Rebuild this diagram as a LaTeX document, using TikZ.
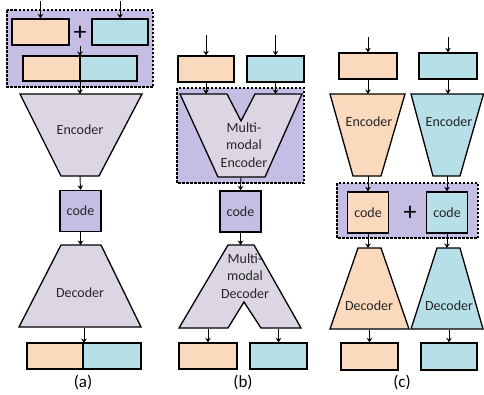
\documentclass[tikz,border=0pt]{standalone}
\usepackage{fontspec}
\setmainfont{Carlito}
\usetikzlibrary{arrows.meta}
\definecolor{peach}{HTML}{FBD9BD}
\definecolor{lblue}{HTML}{B7DFE7}
\definecolor{lpurp}{HTML}{C5BDE3}
\definecolor{trap}{HTML}{DCD6E4}
\definecolor{txt}{HTML}{262626}
\begin{document}
\begin{tikzpicture}[x=1pt,y=-1pt,
  mybox/.style={draw=black, line width=1.3pt, inner sep=0pt, minimum width=#1},
  mybox/.default=57pt,
  pbox/.style={mybox=#1, fill=peach, minimum height=26pt},
  bbox/.style={mybox=#1, fill=lblue, minimum height=26pt},
  codebox/.style={draw=black, line width=1.3pt, inner sep=0pt, minimum width=41pt, minimum height=41pt, font=\fontsize{14}{16}\selectfont, text=txt},
  outl/.style={draw=black, line width=1.3pt, line join=miter},
  grp/.style={draw=black, line width=1.2pt, dash pattern=on 2.5pt off 1.5pt, fill=lpurp},
  lbl/.style={font=\fontsize{14}{17.5}\selectfont, text=txt, align=center, inner sep=0pt},
  captxt/.style={font=\fontsize{17}{19}\selectfont, text=black, inner sep=0pt},
  plussign/.style={font=\fontsize{26}{26}\selectfont, inner sep=0pt},
  arr/.style={-{Stealth[length=4.5pt,width=5.5pt]}, line width=0.9pt, draw=black}]
\useasboundingbox (0,0) rectangle (484,394);
\fill[white] (0,0) rectangle (484,394);

%% ---------- (a) ----------
\draw[grp] (7,10) rectangle (153,87);
\node[pbox=57pt] (ain1) at (40.5,32) {};
\node[bbox=56pt] (ain2) at (120,32) {};
\coordinate (ain1s) at (40.5,1);
\coordinate (ain2s) at (120,1);
\node[plussign] (aplus) at (80,33) {+};
\coordinate (aplusb) at (80,46);
\node[mybox=57pt, fill=peach, minimum height=25pt] (acat1) at (51.5,68.5) {};
\node[mybox=57pt, fill=lblue, minimum height=25pt] (acat2) at (108.5,68.5) {};
\coordinate (acattop) at (80,56);
\coordinate (acatbot) at (80,81);
\draw[outl, fill=trap] (20,94) -- (142,94) -- (99,176) -- (61,176) -- cycle;
\coordinate (aenct) at (80,94);
\coordinate (aencb) at (80,176);
\node[lbl] (aenc) at (80,130) {Encoder};
\node[codebox, fill=lpurp] (acode) at (80.5,211) {code};
\draw[outl, fill=trap] (61,245) -- (101,245) -- (141,327) -- (19,327) -- cycle;
\coordinate (adect) at (80.5,245);
\coordinate (adecb) at (84,328);
\node[lbl] (adec) at (80,293) {Decoder};
\node[mybox=56pt, fill=peach, minimum height=26pt] (aout1) at (55,356) {};
\node[mybox=58pt, fill=lblue, minimum height=26pt] (aout2) at (112,356) {};
\coordinate (aoutt) at (84,343);
\node[captxt] (capa) at (83,382) {(a)};

\draw[arr] (ain1s) -- (ain1.north);
\draw[arr] (ain2s) -- (ain2.north);
\draw[arr] (aplusb) -- (acattop);
\draw[arr] (acatbot) -- (aenct);
\draw[arr] (aencb) -- (acode.north);
\draw[arr] (acode.south) -- (adect);
\draw[arr] (adecb) -- (aoutt);

%% ---------- (b) ----------
\node[pbox=56pt] (bin1) at (206,69) {};
\node[bbox=57pt] (bin2) at (275.5,69) {};
\coordinate (bin1s) at (206,35);
\coordinate (bin2s) at (275.5,35);
\draw[grp] (177,88) rectangle (304,183);
\draw[outl, fill=trap] (180,94) -- (227,94) -- (241,121) -- (255,94) -- (302,94) -- (265,177) -- (218,177) -- cycle;
\coordinate (benct1) at (206,94);
\coordinate (benct2) at (275.5,94);
\coordinate (bencb) at (241,177);
\node[lbl] (benc) at (244,145) {Multi-\\modal\\Encoder};
\node[codebox, fill=lpurp] (bcode) at (240.5,211.5) {code};
\draw[outl, fill=trap] (228,245) -- (254,245) -- (301,328) -- (261,328) -- (244,302) -- (228,328) -- (179,328) -- cycle;
\coordinate (bdect) at (240.5,245);
\coordinate (bdecb1) at (208,329);
\coordinate (bdecb2) at (278.5,329);
\node[lbl] (bdec) at (245,276) {Multi-\\modal\\Decoder};
\node[pbox=58pt] (bout1) at (208,356) {};
\node[bbox=57pt] (bout2) at (278.5,356) {};
\node[captxt] (capb) at (243,382) {(b)};

\draw[arr] (bin1s) -- (bin1.north);
\draw[arr] (bin2s) -- (bin2.north);
\draw[arr] (bin1.south) -- (benct1);
\draw[arr] (bin2.south) -- (benct2);
\draw[arr] (bencb) -- (bcode.north);
\draw[arr] (bcode.south) -- (bdect);
\draw[arr] (bdecb1) -- (bout1.north);
\draw[arr] (bdecb2) -- (bout2.north);

%% ---------- (c) ----------
\node[pbox=58pt] (cin1) at (368,66) {};
\node[bbox=58pt] (cin2) at (448,66) {};
\coordinate (cin1s) at (368,37);
\coordinate (cin2s) at (448,37);
\draw[outl, fill=peach] (330,94) -- (405,94) -- (381,176) -- (353,176) -- cycle;
\draw[outl, fill=lblue] (411,94) -- (483.5,94) -- (460,176) -- (433,176) -- cycle;
\coordinate (cenc1t) at (368,94);
\coordinate (cenc2t) at (448,94);
\coordinate (cenc1b) at (368,176);
\coordinate (cenc2b) at (447,176);
\node[lbl] (cenc1) at (369,122) {Encoder};
\node[lbl] (cenc2) at (449,122) {Encoder};
\draw[grp] (337,183) rectangle (478,238);
\node[codebox, fill=peach] (ccode1) at (368,212.5) {code};
\node[codebox, fill=lblue] (ccode2) at (447,212.5) {code};
\node[plussign] (cplus) at (410,213) {+};
\draw[outl, fill=peach] (358,248) -- (381,248) -- (409,329) -- (330,329) -- cycle;
\draw[outl, fill=lblue] (437,248) -- (460,248) -- (483,329) -- (411,329) -- cycle;
\coordinate (cdec1t) at (368,248);
\coordinate (cdec2t) at (447,248);
\coordinate (cdec1b) at (369.5,330);
\coordinate (cdec2b) at (449,330);
\node[lbl] (cdec1) at (369,306) {Decoder};
\node[lbl] (cdec2) at (449,306) {Decoder};
\node[mybox=57pt, fill=peach, minimum height=27pt] (cout1) at (369.5,356.5) {};
\node[mybox=56pt, fill=lblue, minimum height=27pt] (cout2) at (449,356.5) {};
\node[captxt] (capc) at (402,382) {(c)};

\draw[arr] (cin1s) -- (cin1.north);
\draw[arr] (cin2s) -- (cin2.north);
\draw[arr] (cin1.south) -- (cenc1t);
\draw[arr] (cin2.south) -- (cenc2t);
\draw[arr] (cenc1b) -- (ccode1.north);
\draw[arr] (cenc2b) -- (ccode2.north);
\draw[arr] (ccode1.south) -- (cdec1t);
\draw[arr] (ccode2.south) -- (cdec2t);
\draw[arr] (cdec1b) -- (cout1.north);
\draw[arr] (cdec2b) -- (cout2.north);
\end{tikzpicture}
\end{document}
